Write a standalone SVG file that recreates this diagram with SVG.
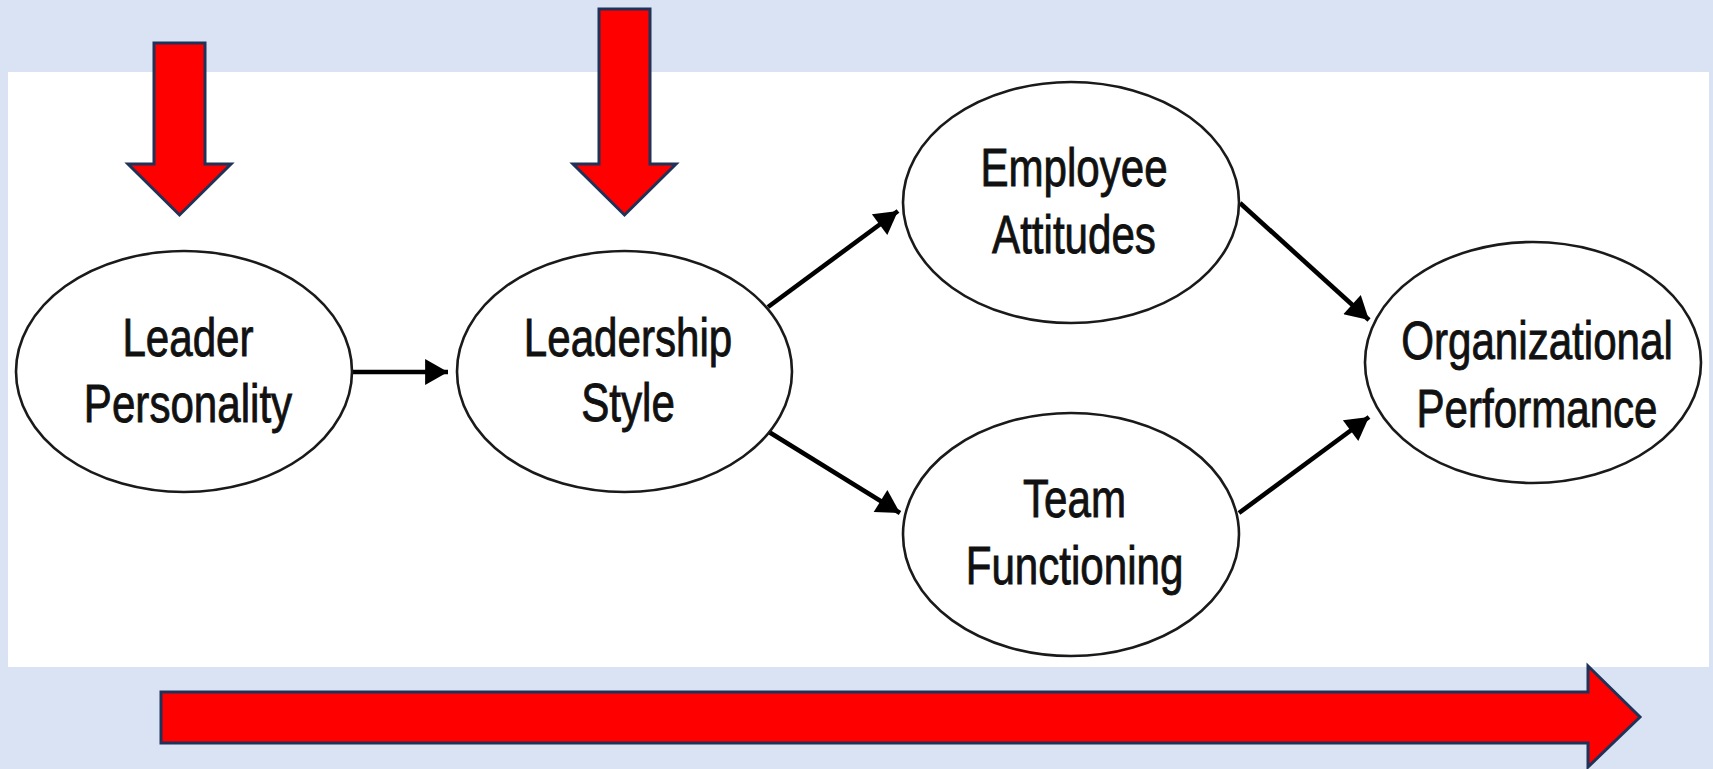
<svg xmlns="http://www.w3.org/2000/svg" width="1713" height="769" viewBox="0 0 1713 769">
  <style>
    .node ellipse { fill: #FFFFFF; stroke: #1a1a1a; stroke-width: 2.6; }
    .node text { font-family: "Liberation Sans", Arial, sans-serif; font-size: 54px; fill: #111111; stroke: #111111; stroke-width: 0.9; text-anchor: middle; }
    .conn line { stroke: #000000; stroke-width: 4.6; marker-end: url(#ah); }
    .big { fill: #FF0000; stroke: #1F3358; stroke-width: 3; stroke-linejoin: miter; }
  </style>
  <defs>
    <marker id="ah" markerUnits="userSpaceOnUse" markerWidth="26" markerHeight="26" viewBox="0 0 22 25" refX="22" refY="12.5" orient="auto">
      <path d="M0,0 L22,12.5 L0,25 Z" fill="#000000"/>
    </marker>
  </defs>

  <rect x="0" y="0" width="1713" height="769" fill="#DAE3F3"/>
  <rect x="8" y="72" width="1701" height="595" fill="#FFFFFF"/>

  <g id="connectors" class="conn">
    <line x1="352" y1="372" x2="448" y2="372"/>
    <line x1="768" y1="307" x2="898" y2="211"/>
    <line x1="769" y1="432" x2="900" y2="513"/>
    <line x1="1240" y1="203" x2="1369" y2="320"/>
    <line x1="1239" y1="513" x2="1369" y2="417"/>
  </g>

  <g id="node-leader-personality" class="node">
    <ellipse cx="184" cy="371.5" rx="168" ry="120.5"/>
    <text transform="translate(188 356) scale(0.78 1)">Leader</text>
    <text transform="translate(188 422) scale(0.78 1)">Personality</text>
  </g>
  <g id="node-leadership-style" class="node">
    <ellipse cx="624.5" cy="371.5" rx="167.5" ry="120.5"/>
    <text transform="translate(628 356) scale(0.78 1)">Leadership</text>
    <text transform="translate(628 421) scale(0.78 1)">Style</text>
  </g>
  <g id="node-employee-attitudes" class="node">
    <ellipse cx="1071" cy="202.5" rx="168" ry="120.5"/>
    <text transform="translate(1074 186) scale(0.78 1)">Employee</text>
    <text transform="translate(1074 253) scale(0.78 1)">Attitudes</text>
  </g>
  <g id="node-team-functioning" class="node">
    <ellipse cx="1071" cy="534.5" rx="168" ry="121.5"/>
    <text transform="translate(1074.5 517) scale(0.78 1)">Team</text>
    <text transform="translate(1074.5 584) scale(0.78 1)">Functioning</text>
  </g>
  <g id="node-organizational-performance" class="node">
    <ellipse cx="1533" cy="362.5" rx="168" ry="120.5"/>
    <text transform="translate(1537 359) scale(0.78 1)">Organizational</text>
    <text transform="translate(1537 427) scale(0.78 1)">Performance</text>
  </g>

  <g id="red-arrow-1">
    <polygon class="big" points="154,43 205,43 205,164 231,164 179.5,215 128,164 154,164"/>
  </g>
  <g id="red-arrow-2">
    <polygon class="big" points="599,9 650,9 650,164 676,164 624.5,215 573,164 599,164"/>
  </g>
  <g id="red-arrow-bottom">
    <polygon class="big" points="161,692 1588,692 1588,666 1640,717 1588,767 1588,743 161,743"/>
  </g>
</svg>
